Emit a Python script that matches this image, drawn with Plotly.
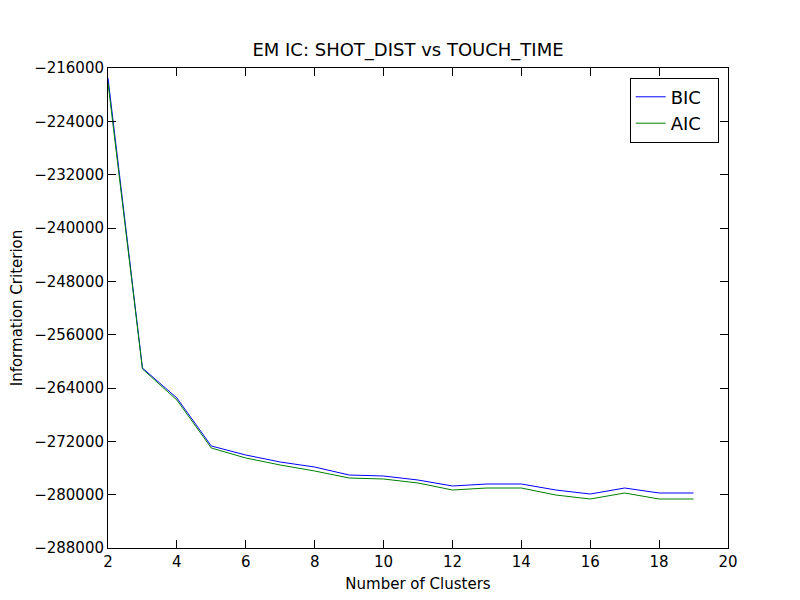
import plotly.graph_objects as go

clusters = list(range(2, 20))
bic = [-217500, -261000, -265500, -272700, -274050, -275100, -275850, -277050, -277200,
       -277800, -278700, -278400, -278400, -279300, -279900, -279000, -279750, -279750]
aic = [-218250, -261150, -265800, -273000, -274500, -275550, -276450, -277500, -277650,
       -278250, -279300, -279000, -279000, -280050, -280650, -279750, -280650, -280650]

fig = go.Figure()
fig.add_trace(go.Scatter(x=clusters, y=bic, mode="lines", name="BIC  ", line=dict(color="#0000ff", width=1)))
fig.add_trace(go.Scatter(x=clusters, y=aic, mode="lines", name="AIC  ", line=dict(color="#008000", width=1)))

ax = dict(showgrid=False, zeroline=False, showline=True, linecolor="black", linewidth=1,
          mirror="ticks", ticks="inside", ticklen=8, tickcolor="black", automargin=False,
          tickfont=dict(size=15, color="black"))
fig.update_layout(
    width=800, height=600, plot_bgcolor="white", paper_bgcolor="white",
    margin=dict(l=100, r=80, t=60, b=60),
    font=dict(family="DejaVu Sans", color="black"),
    title=dict(text="EM IC: SHOT_DIST vs TOUCH_TIME", x=0.5, xanchor="center", y=0.93, yanchor="middle",
               font=dict(size=18)),
    xaxis=dict(ax, range=[2, 20], dtick=2, title=dict(text="Number of Clusters", font=dict(size=15), standoff=8)),
    yaxis=dict(ax, range=[-288000, -216000], dtick=8000, tickformat="d",
               title=dict(text="Information Criterion", font=dict(size=15), standoff=10)),
    legend=dict(x=0.985, y=0.98, xanchor="right", yanchor="top", bordercolor="black", borderwidth=1,
                bgcolor="white", font=dict(size=18)),
    showlegend=True,
)
fig.write_html("out.html")
